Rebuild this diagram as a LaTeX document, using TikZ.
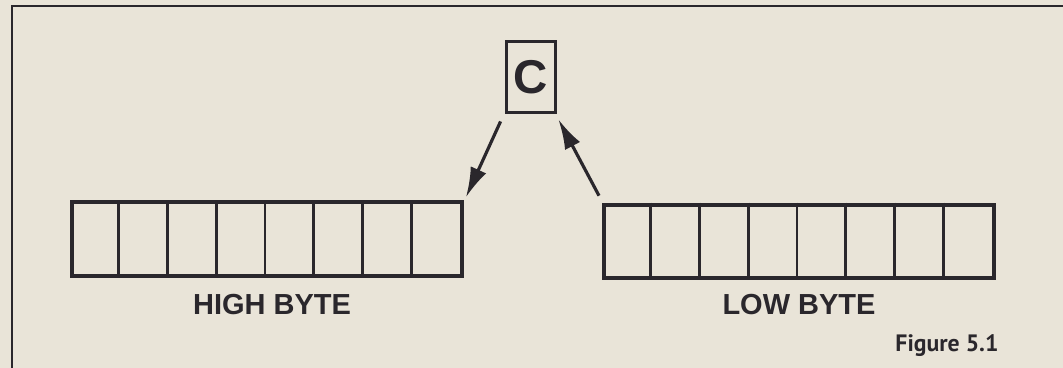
\documentclass[tikz,border=0pt]{standalone}
\usepackage{fontspec}
\setmainfont{Liberation Sans}
\newfontfamily\figfont{PT Sans}
\usepackage{xcolor}
\usetikzlibrary{arrows.meta, positioning}
\definecolor{paper}{RGB}{233,228,216}
\definecolor{ink}{RGB}{42,39,44}

\begin{document}
\begin{tikzpicture}[x=0.02cm, y=-0.02cm,
  reg/.style={rectangle, draw=ink, line width=2.3pt, minimum width=7.8cm, minimum height=1.47cm, inner sep=0pt},
  cell/.style={draw=ink, line width=1.6pt},
  flag/.style={rectangle, draw=ink, line width=2.2pt, minimum width=0.98cm, minimum height=1.42cm, inner sep=0pt, font=\fontsize{27}{29}\selectfont\bfseries, text=ink},
  label/.style={font=\fontsize{16.5}{19}\selectfont\bfseries, text=ink},
  arrow/.style={-{Latex[length=6mm, width=3.4mm]}, draw=ink, line width=1.8pt}
]
 % paper and frame
 \fill[paper] (0,0) rectangle (1063,368);
 \useasboundingbox (0,0) rectangle (1063,368);
 \draw[ink, line width=1.3pt] (12,368) -- (12,6) -- (1063,6);

 % carry flag
 \node[flag] (cbox) at (531,77) {C};

 % high and low byte registers
 \node[reg] (high) at (267,239) {};
 \node[reg] (low) at (799,241.5) {};
 \foreach \i in {1,...,7} {
   \draw[cell] ([xshift=\i*0.975cm]high.north west) -- ([xshift=\i*0.975cm]high.south west);
   \draw[cell] ([xshift=\i*0.975cm]low.north west) -- ([xshift=\i*0.975cm]low.south west);
 }

 \node[label] (highlbl) at (272,305) {HIGH BYTE};
 \node[label] (lowlbl) at (799,305) {LOW BYTE};

 % rotation through carry
 \draw[arrow] ([shift={(-4,7)}]cbox.south west) -- ([shift={(2,-3)}]high.north east);
 \draw[arrow] ([shift={(-3,-7)}]low.north west) -- ([shift={(1,5)}]cbox.south east);

 \node[anchor=base, font=\figfont\fontsize{13.5}{15}\selectfont\bfseries, text=ink] (caption) at (947,352) {Figure 5.1};
\end{tikzpicture}
\end{document}
